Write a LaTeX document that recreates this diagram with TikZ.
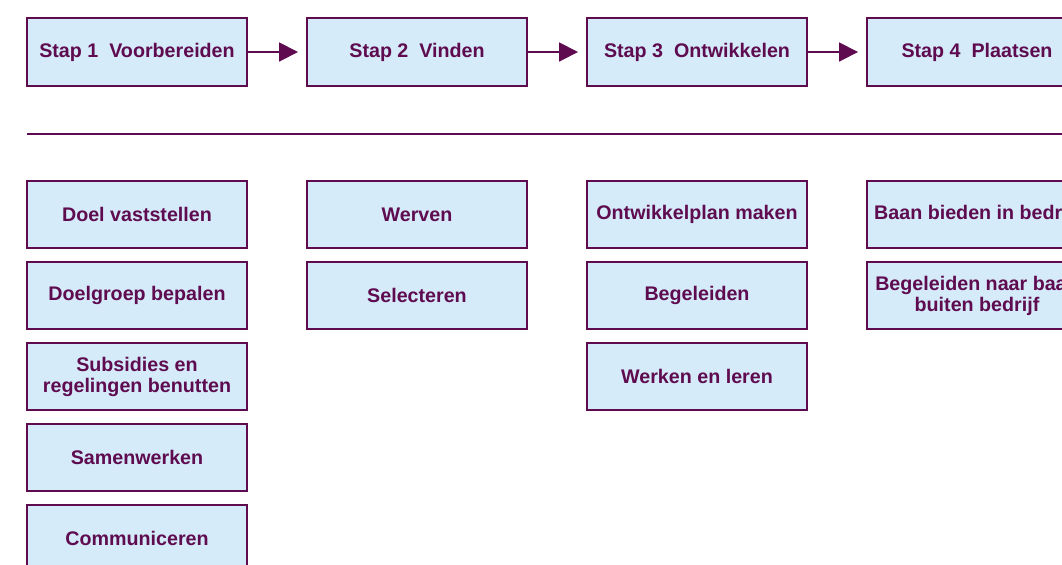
\documentclass[tikz,border=0pt]{standalone}
\usepackage{fontspec}
\setmainfont{Liberation Sans}
\usepackage{tikz}
\usetikzlibrary{arrows.meta}
\definecolor{paars}{HTML}{5E0B4F}
\definecolor{lichtblauw}{HTML}{D5EBF9}
\tikzstyle{stap} = [rectangle, minimum width=5.5cm, minimum height=1.7cm, inner sep=0pt,
    text centered, draw=paars, fill=lichtblauw, line width=1.4pt, text=paars,
    font=\fontsize{14}{15}\selectfont\bfseries]
\tikzstyle{taak} = [stap, minimum height=1.675cm, align=center]
\tikzstyle{arrow} = [line width=1.4pt, draw=paars, -{Triangle[length=0.47cm, width=0.47cm]},
    shorten >=0.2cm]
\tikzstyle{lijn} = [line width=1.4pt, draw=paars]

\begin{document}
\begin{tikzpicture}
            \useasboundingbox (0,0) rectangle (26.55,-14.1);
            \clip (0,0) rectangle (26.55,-14.1);
            % stappen
            \node (stap1) [stap] at (3.425,-1.3) {Stap 1\ \ Voorbereiden};
            \node (stap2) [stap, right of=stap1, xshift=6cm] {Stap 2\ \ Vinden};
            \node (stap3) [stap, right of=stap2, xshift=6cm] {Stap 3\ \ Ontwikkelen};
            \node (stap4) [stap, right of=stap3, xshift=6cm] {Stap 4\ \ Plaatsen};

            \draw [arrow] (stap1) -- (stap2);
            \draw [arrow] (stap2) -- (stap3);
            \draw [arrow] (stap3) -- (stap4);

            \coordinate (lijnL) at (0.675,-3.35);
            \coordinate (lijnR) at (27.5,-3.35);
            \draw [lijn] (lijnL) -- (lijnR);

            % stap 1
            \node (doel) [taak, below of=stap1, yshift=-3.0625cm] {Doel vaststellen};
            \node (doelgroep) [taak, below of=doel, yshift=-1.025cm] {Doelgroep bepalen};
            \node (subsidies) [taak, below of=doelgroep, yshift=-1.025cm] {Subsidies en\\regelingen benutten};
            \node (samen) [taak, below of=subsidies, yshift=-1.025cm] {Samenwerken};
            \node (comm) [taak, below of=samen, yshift=-1.025cm] {Communiceren};
            % stap 2
            \node (werven) [taak, below of=stap2, yshift=-3.0625cm] {Werven};
            \node (select) [taak, below of=werven, yshift=-1.025cm] {Selecteren};
            % stap 3
            \node (plan) [taak, below of=stap3, yshift=-3.0625cm] {Ontwikkelplan maken};
            \node (begel) [taak, below of=plan, yshift=-1.025cm] {Begeleiden};
            \node (leren) [taak, below of=begel, yshift=-1.025cm] {Werken en leren};
            % stap 4
            \node (baan) [taak, below of=stap4, yshift=-3.0625cm] {Baan bieden in bedrijf};
            \node (buiten) [taak, below of=baan, yshift=-1.025cm] {Begeleiden naar baan\\buiten bedrijf};
        \end{tikzpicture}
\end{document}
